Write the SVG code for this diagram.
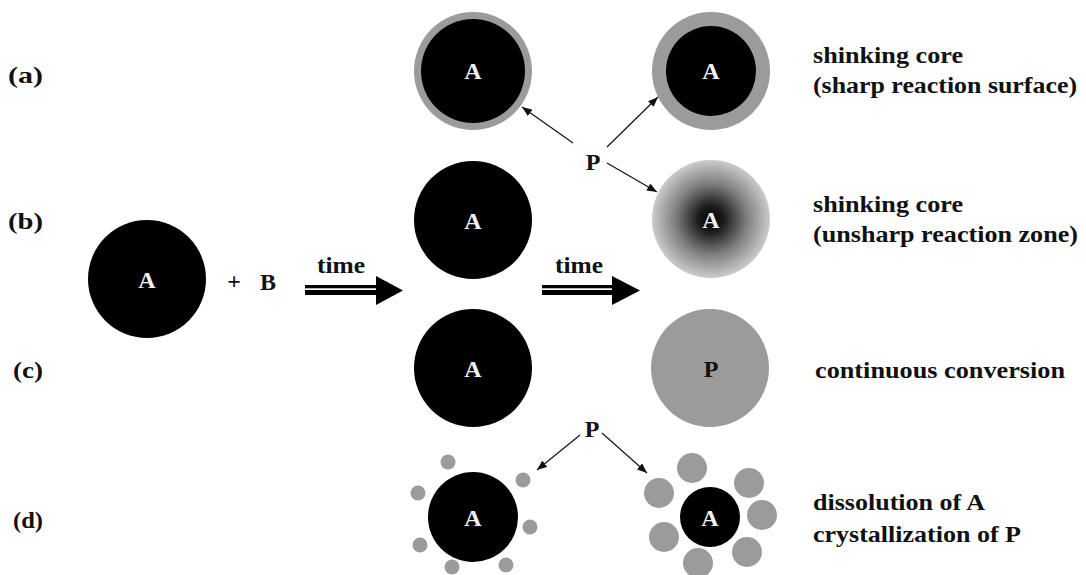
<svg xmlns="http://www.w3.org/2000/svg" width="1086" height="575" viewBox="0 0 1086 575">
<style>
text{font-family:"Liberation Serif","Times New Roman",serif}
.t{font-weight:bold;font-size:24px;fill:#111}
.w{font-weight:bold;font-size:24px;fill:#f2f2f2;text-anchor:middle}
.c{font-weight:bold;font-size:24px;fill:#111;text-anchor:middle}
.blk{fill:#000}
.gry{fill:#9b9b9b}
.con{stroke:#111;stroke-width:1.2;fill:none;marker-end:url(#ah)}
</style>
<defs>
<marker id="ah" markerUnits="userSpaceOnUse" markerWidth="10" markerHeight="8" refX="10" refY="4" orient="auto">
<path d="M0,0 L10,4 L0,8 z" fill="#111"/>
</marker>
<radialGradient id="rg" cx="0.5" cy="0.5" r="0.5">
<stop offset="0" stop-color="#000"/>
<stop offset="0.22" stop-color="#1c1c1c"/>
<stop offset="0.6" stop-color="#7e7e7e"/>
<stop offset="1" stop-color="#cbcbcb"/>
</radialGradient>
</defs>
<rect width="1086" height="575" fill="#fff"/>

<g id="row-labels">
<text class="t" x="8" y="83" textLength="35" lengthAdjust="spacingAndGlyphs">(a)</text>
<text class="t" x="8" y="229" textLength="35" lengthAdjust="spacingAndGlyphs">(b)</text>
<text class="t" x="13" y="378" textLength="30" lengthAdjust="spacingAndGlyphs">(c)</text>
<text class="t" x="13" y="528" textLength="30" lengthAdjust="spacingAndGlyphs">(d)</text>
</g>

<g id="start">
<circle class="blk" cx="147" cy="279" r="59"/>
<text class="w" x="147" y="288">A</text>
<text x="234" y="289" font-size="24" font-weight="bold" fill="#111" text-anchor="middle">+</text>
<text class="t" x="260" y="290">B</text>
</g>

<g id="time-arrow-1">
<text class="t" x="317" y="273" textLength="48" lengthAdjust="spacingAndGlyphs">time</text>
<rect x="305" y="285" width="74" height="3.3" fill="#000"/>
<rect x="305" y="290" width="74" height="5" fill="#000"/>
<polygon points="376,276 403,290.5 376,305" fill="#000"/>
</g>

<g id="time-arrow-2">
<text class="t" x="555" y="273" textLength="48" lengthAdjust="spacingAndGlyphs">time</text>
<rect x="542" y="285" width="73" height="3.3" fill="#000"/>
<rect x="542" y="290" width="73" height="5" fill="#000"/>
<polygon points="612,276 640,290.5 612,305" fill="#000"/>
</g>

<g id="a-mid">
<circle class="gry" cx="473" cy="71" r="59"/>
<circle class="blk" cx="473" cy="71" r="52"/>
<text class="w" x="473" y="79">A</text>
</g>
<g id="a-right">
<circle class="gry" cx="711" cy="71" r="59"/>
<circle class="blk" cx="711" cy="71" r="45"/>
<text class="w" x="711" y="79">A</text>
</g>
<g id="p-top">
<text class="c" x="593" y="170">P</text>
</g>

<g id="b-mid">
<circle class="blk" cx="473" cy="220" r="59"/>
<text class="w" x="473" y="229">A</text>
</g>
<g id="b-right">
<circle cx="711" cy="219" r="59" fill="url(#rg)"/>
<text class="w" x="711" y="228">A</text>
</g>

<g id="c-mid">
<circle class="blk" cx="473" cy="368" r="59"/>
<text class="w" x="473" y="377">A</text>
</g>
<g id="c-right">
<circle class="gry" cx="710" cy="368" r="59"/>
<text class="c" x="711" y="377">P</text>
</g>

<g id="p-bottom">
<text class="c" x="592" y="437">P</text>
</g>

<g id="d-left">
<circle class="blk" cx="473" cy="517" r="45"/>
<text class="w" x="473" y="526">A</text>
<circle class="gry" cx="448" cy="462" r="7.5"/>
<circle class="gry" cx="523" cy="480" r="7.5"/>
<circle class="gry" cx="418" cy="493" r="7.5"/>
<circle class="gry" cx="530" cy="527" r="7.5"/>
<circle class="gry" cx="420" cy="545" r="7.5"/>
<circle class="gry" cx="452" cy="567" r="7.5"/>
<circle class="gry" cx="506" cy="565" r="7.5"/>
</g>
<g id="d-right">
<circle class="blk" cx="710" cy="517" r="30"/>
<text class="w" x="710" y="526">A</text>
<circle class="gry" cx="692" cy="468" r="15"/>
<circle class="gry" cx="749" cy="483" r="15"/>
<circle class="gry" cx="659" cy="493" r="15"/>
<circle class="gry" cx="762" cy="515" r="15"/>
<circle class="gry" cx="664" cy="537" r="15"/>
<circle class="gry" cx="747" cy="552" r="15"/>
<circle class="gry" cx="698" cy="563" r="15"/>
</g>

<g id="connectors">
<line class="con" x1="573" y1="143" x2="522" y2="107"/>
<line class="con" x1="607" y1="147" x2="658" y2="97"/>
<line class="con" x1="607" y1="163" x2="657" y2="192"/>
<line class="con" x1="580" y1="435" x2="537" y2="470"/>
<line class="con" x1="602" y1="433" x2="647" y2="473"/>
</g>

<g id="descriptions">
<text class="t" x="813" y="63" textLength="150" lengthAdjust="spacingAndGlyphs">shinking core</text>
<text class="t" x="813" y="93" textLength="264" lengthAdjust="spacingAndGlyphs">(sharp reaction surface)</text>
<text class="t" x="813" y="212" textLength="150" lengthAdjust="spacingAndGlyphs">shinking core</text>
<text class="t" x="813" y="242" textLength="265" lengthAdjust="spacingAndGlyphs">(unsharp reaction zone)</text>
<text class="t" x="815" y="378" textLength="250" lengthAdjust="spacingAndGlyphs">continuous conversion</text>
<text class="t" x="813" y="510" textLength="172" lengthAdjust="spacingAndGlyphs">dissolution of A</text>
<text class="t" x="813" y="542" textLength="208" lengthAdjust="spacingAndGlyphs">crystallization of P</text>
</g>
</svg>
